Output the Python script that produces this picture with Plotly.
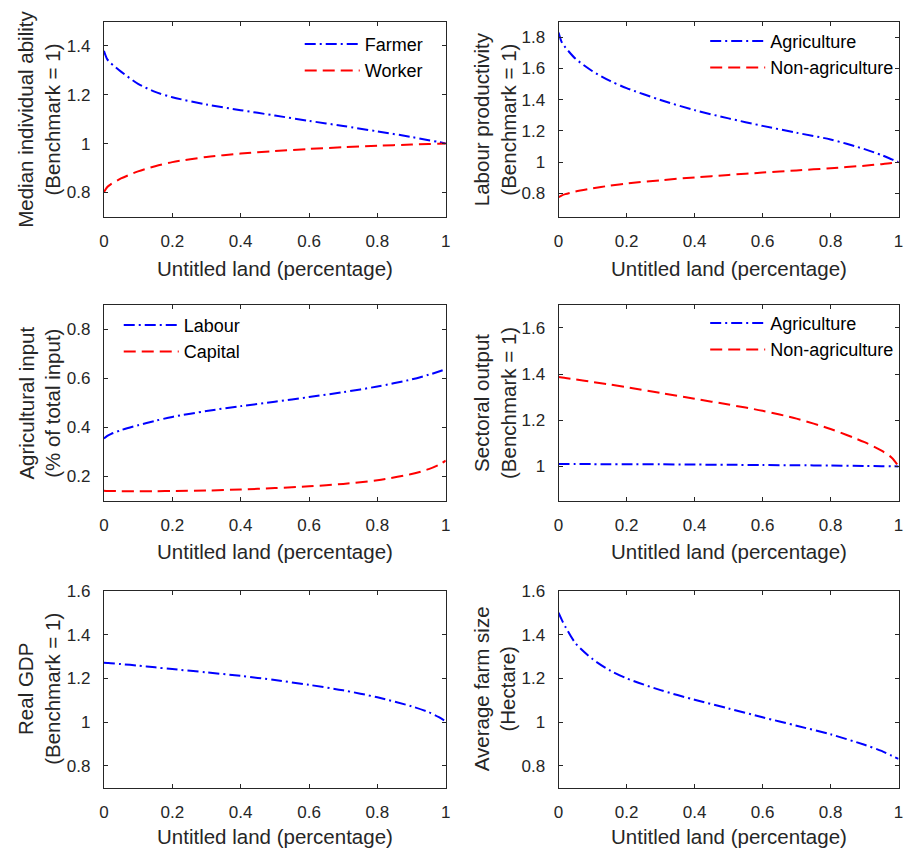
import plotly.graph_objects as go

# ---------------- data ----------------
untitled = [0, 0.01, 0.02, 0.05, 0.1, 0.15, 0.2, 0.3, 0.4, 0.5, 0.6, 0.7, 0.8, 0.9, 0.95, 0.98, 1.0]

farmer_ability = [1.38, 1.345, 1.33, 1.295, 1.245, 1.212, 1.19, 1.16, 1.137, 1.115, 1.093, 1.072, 1.05, 1.027, 1.014, 1.006, 1.0]
worker_ability = [0.80, 0.822, 0.833, 0.857, 0.886, 0.907, 0.924, 0.945, 0.959, 0.969, 0.978, 0.985, 0.991, 0.996, 0.998, 0.999, 1.0]

agri_productivity = [1.83, 1.765, 1.735, 1.662, 1.582, 1.522, 1.474, 1.398, 1.333, 1.28, 1.232, 1.188, 1.145, 1.083, 1.045, 1.018, 1.0]
nonagri_productivity = [0.775, 0.787, 0.795, 0.812, 0.832, 0.849, 0.863, 0.884, 0.902, 0.918, 0.933, 0.947, 0.961, 0.977, 0.987, 0.994, 1.0]

labour_input = [0.355, 0.366, 0.373, 0.389, 0.409, 0.427, 0.443, 0.467, 0.487, 0.505, 0.524, 0.544, 0.567, 0.596, 0.615, 0.628, 0.638]
capital_input = [0.142, 0.141, 0.141, 0.14, 0.14, 0.14, 0.141, 0.143, 0.147, 0.153, 0.16, 0.17, 0.185, 0.21, 0.23, 0.248, 0.265]

agri_output = [1.010, 1.010, 1.010, 1.010, 1.010, 1.009, 1.009, 1.009, 1.008, 1.007, 1.006, 1.005, 1.004, 1.002, 1.001, 1.0005, 1.0]
nonagri_output = [1.387, 1.385, 1.383, 1.377, 1.366, 1.355, 1.343, 1.318, 1.293, 1.268, 1.241, 1.207, 1.162, 1.105, 1.068, 1.038, 1.0]

real_gdp = [1.271, 1.27, 1.269, 1.265, 1.258, 1.25, 1.242, 1.227, 1.211, 1.192, 1.17, 1.145, 1.113, 1.072, 1.045, 1.022, 1.003]

farm_size = [1.50, 1.466, 1.436, 1.36, 1.288, 1.237, 1.2, 1.146, 1.102, 1.062, 1.022, 0.983, 0.944, 0.896, 0.868, 0.846, 0.832]

x_title = "Untitled land (percentage)"
y_titles = [
    "Median individual ability<br>(Benchmark = 1)",
    "Labour productivity<br>(Benchmark = 1)",
    "Agricultural input<br>(% of total input)",
    "Sectoral output<br>(Benchmark = 1)",
    "Real GDP<br>(Benchmark = 1)",
    "Average farm size<br>(Hectare)",
]
y_ranges = [[0.7, 1.5], [0.65, 1.9], [0.1, 0.9], [0.85, 1.7], [0.7, 1.6], [0.7, 1.6]]

# ---------------- layout geometry ----------------
W, H = 908, 852
BLUE = "#0000FF"
RED = "#FF0000"
AX = "#262626"
FONT = "Liberation Sans, Arial, Helvetica, sans-serif"

col_px = [(100, 445.7), (559.7, 903.5)]
row_px = [(12.7, 210), (299, 497.3), (588, 787)]
xtitle_gap = [52, 51, 49]

DASHDOT = "11px,4px,2px,4px"
DASHED = "12px,6px"

panels = [
    [("Farmer", farmer_ability, BLUE, DASHDOT), ("Worker", worker_ability, RED, DASHED)],
    [("Agriculture", agri_productivity, BLUE, DASHDOT), ("Non-agriculture", nonagri_productivity, RED, DASHED)],
    [("Labour", labour_input, BLUE, DASHDOT), ("Capital", capital_input, RED, DASHED)],
    [("Agriculture", agri_output, BLUE, DASHDOT), ("Non-agriculture", nonagri_output, RED, DASHED)],
    [("Real GDP", real_gdp, BLUE, DASHDOT)],
    [("Average farm size", farm_size, BLUE, DASHDOT)],
]

fig = go.Figure()
layout = dict(
    width=W, height=H, autosize=False,
    margin=dict(l=0, r=0, t=0, b=0),
    paper_bgcolor="white", plot_bgcolor="white",
    font=dict(family=FONT, color=AX, size=17),
    annotations=[],
)

legend_pos = [(298, 17), (708, 14), (115, 301), (708, 299)]

for i, series in enumerate(panels):
    r, c = divmod(i, 2)
    n = "" if i == 0 else str(i + 1)
    xa, ya = "x" + n, "y" + n
    leg = "legend" if i == 0 else "legend" + str(i + 1)
    for name, vals, color, dash in series:
        fig.add_trace(go.Scatter(
            x=untitled, y=vals, mode="lines", name=name,
            line=dict(color=color, width=2, dash=dash, shape="spline", smoothing=0.8),
            xaxis=xa, yaxis=ya,
            showlegend=(i < 4), legend=leg if i < 4 else None,
        ))
    x0, x1 = col_px[c]
    top, bot = row_px[r]
    common = dict(
        showline=True, linecolor=AX, linewidth=1, mirror="ticks",
        ticks="inside", ticklen=4, tickcolor=AX, tickwidth=1,
        showgrid=False, zeroline=False,
        tickfont=dict(family=FONT, size=17, color=AX),
    )
    layout["xaxis" + n] = dict(
        domain=[x0 / W, x1 / W], range=[0, 1], anchor=ya,
        tickvals=[0, 0.2, 0.4, 0.6, 0.8, 1], ticktext=["0", "0.2", "0.4", "0.6", "0.8", "1"],
        ticklabelstandoff=9,
        **common,
    )
    layout["yaxis" + n] = dict(
        domain=[1 - bot / H, 1 - top / H], range=y_ranges[i], anchor=xa,
        dtick=0.2, tick0=0, ticklabelstandoff=9,
        **common,
    )
    # axis titles
    layout["annotations"].append(dict(
        text=x_title, xref="paper", yref="paper",
        x=(x0 + x1) / 2 / W, y=1 - (bot + xtitle_gap[r]) / H,
        xanchor="center", yanchor="middle", showarrow=False,
        font=dict(family=FONT, size=20.5, color=AX),
    ))
    layout["annotations"].append(dict(
        text=y_titles[i], xref="paper", yref="paper",
        x=(35 if c == 0 else 495.5) / W, y=1 - (top + bot) / 2 / H,
        xanchor="center", yanchor="middle", showarrow=False, textangle=-90,
        font=dict(family=FONT, size=20.5, color=AX),
    ))
    if i < 4:
        lx, ly = legend_pos[i]
        layout[leg] = dict(
            x=lx / W, y=1 - ly / H, xanchor="left", yanchor="top",
            bgcolor="rgba(0,0,0,0)", borderwidth=0,
            font=dict(family=FONT, size=18, color="black"),
            itemwidth=55, tracegroupgap=0,
        )

fig.update_layout(**layout)
fig.write_html(
    "out.html",
    config={"displayModeBar": False},
    post_script="document.body.style.margin='0';document.body.style.overflow='hidden';",
)
